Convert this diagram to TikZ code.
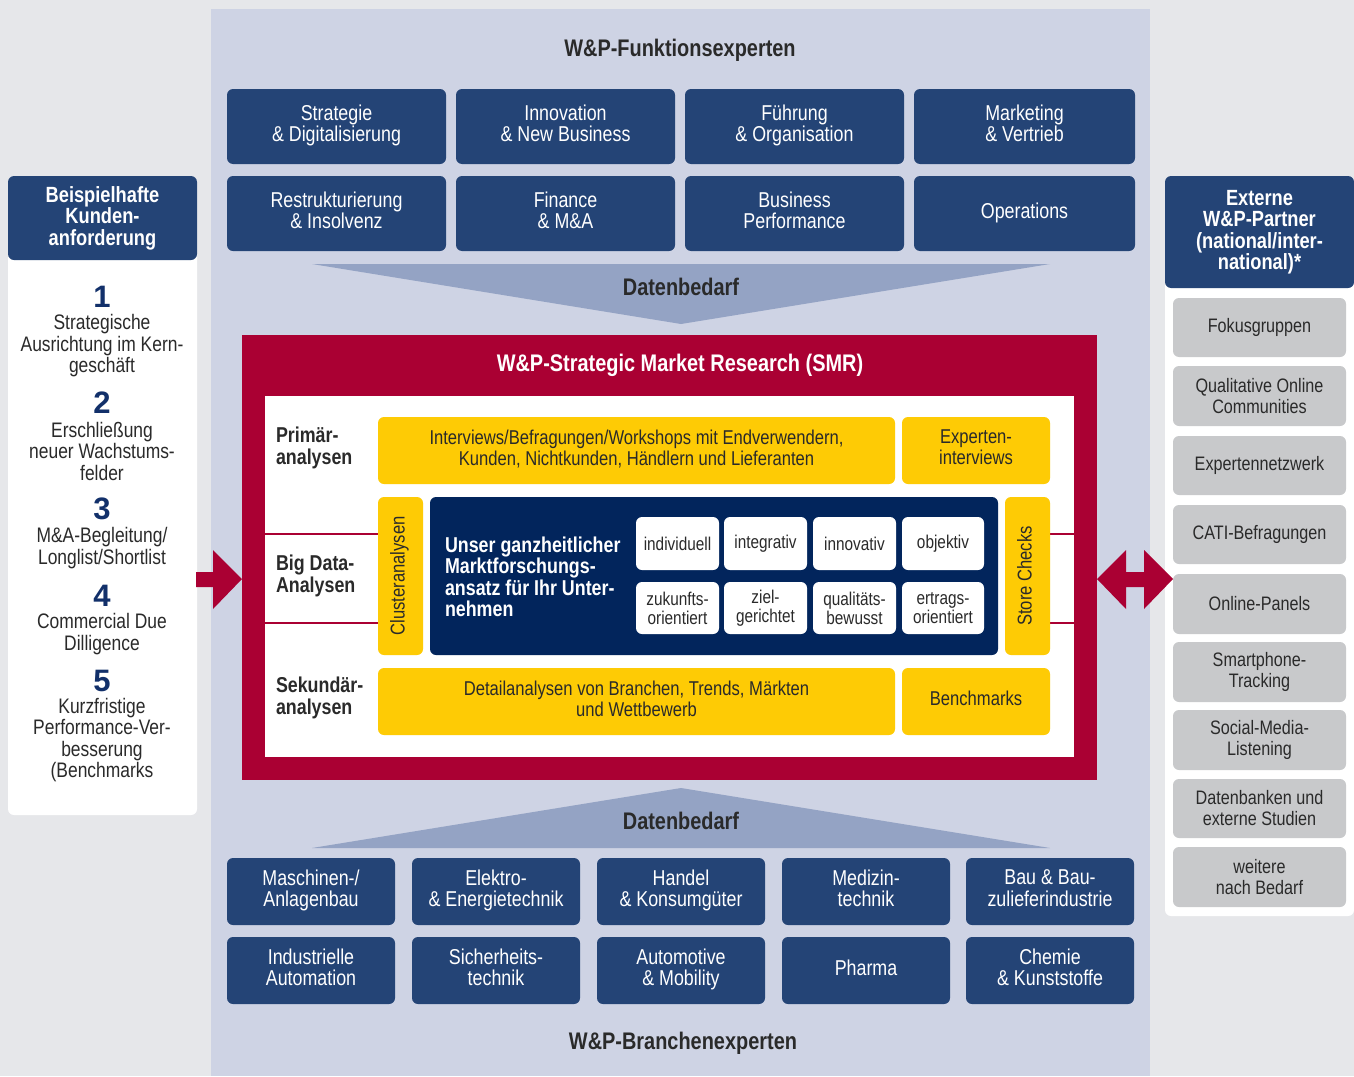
\documentclass[tikz,border=0pt]{standalone}
\usepackage{fontspec}
\setmainfont[FakeStretch=0.83]{Liberation Sans}
\newfontfamily\numfam{Liberation Sans}
\definecolor{bggray}{HTML}{E6E7EA}
\definecolor{panelc}{HTML}{CED3E4}
\definecolor{navyb}{HTML}{244476}
\definecolor{navyd}{HTML}{02255C}
\definecolor{wpred}{HTML}{AA0033}
\definecolor{wpyel}{HTML}{FECB05}
\definecolor{grayb}{HTML}{C8C9CB}
\definecolor{funnelc}{HTML}{94A3C4}
\definecolor{numblue}{HTML}{12306A}
\definecolor{txt}{HTML}{2A2A2A}
\newcommand\fsz[2]{\fontsize{#1}{#2}\selectfont}
\newcommand\bx[7]{\node[#6, minimum width={(#4)-(#2)}, minimum height={(#5)-(#3)}] (#1) at ({((#2)+(#4))/2},{((#3)+(#5))/2}) {#7};}
\tikzset{
  every node/.style={inner sep=0pt, outer sep=0pt},
  strutted/.style={execute at begin node=\strut, execute at end node=\strut},
  fbox/.style={fill=navyb, rounded corners=6pt, text=white, font=\fsz{21.5}{21.5}, align=center, strutted},
  gbox/.style={fill=grayb, rounded corners=6pt, text=txt, font=\fsz{19.5}{21}, align=center},
  ybox/.style={fill=wpyel, rounded corners=6pt, text=txt, font=\fsz{20}{21}, align=center, strutted},
  wbox/.style={fill=white, rounded corners=6pt, text=txt, font=\fsz{18.5}{19}, align=center},
  headbox/.style={fill=navyb, rounded corners=6pt, text=white, font=\bfseries\fsz{22}{21.5}, align=center},
  ttl/.style={text=txt, font=\bfseries\fsz{24}{24}},
  rowlbl/.style={text=txt, font=\bfseries\fsz{21.5}{21.5}, align=left, anchor=west},
  numtxt/.style={text=numblue, font=\numfam\bfseries\fsz{31}{31}},
  lefttxt/.style={text=txt, font=\fsz{21}{21.5}, align=center},
}
\begin{document}
\begin{tikzpicture}[x=1pt,y=-1pt]
\useasboundingbox (0,0) rectangle (1354,1076);
\fill[bggray] (0,0) rectangle (1354,1076);
% central panel
\bx{panel}{211}{9}{1150}{1076}{fill=panelc}{}
\node[ttl] (ttop) at (680,50) {W\&P-Funktionsexperten};
\node[ttl] (tbot) at (683,1043) {W\&P-Branchenexperten};
% function experts
\bx{f1}{227}{89}{446}{164}{fbox}{Strategie\\\& Digitalisierung}
\bx{f2}{456}{89}{675}{164}{fbox}{Innovation\\\& New Business}
\bx{f3}{685}{89}{904}{164}{fbox}{Führung\\\& Organisation}
\bx{f4}{914}{89}{1135}{164}{fbox}{Marketing\\\& Vertrieb}
\bx{f5}{227}{176}{446}{251}{fbox}{Restrukturierung\\\& Insolvenz}
\bx{f6}{456}{176}{675}{251}{fbox}{Finance\\\& M\&A}
\bx{f7}{685}{176}{904}{251}{fbox}{Business\\Performance}
\bx{f8}{914}{176}{1135}{251}{fbox}{Operations}
% funnels
\fill[funnelc] (312,264) -- (1050,264) -- (681,324) -- cycle;
\node[ttl] (db1) at (681,287) {Datenbedarf};
\fill[funnelc] (312,848) -- (1050,848) -- (681,788) -- cycle;
\node[ttl] (db2) at (681,821) {Datenbedarf};
% SMR
\bx{smr}{242}{335}{1097}{780}{fill=wpred}{}
\bx{inner}{265}{396}{1074}{757}{fill=white}{}
\node[text=white, font=\bfseries\fsz{24}{24}] (smrt) at (680,365) {W\&P-Strategic Market Research (SMR)};
\draw[wpred, line width=2pt] (265,534) -- (378,534) (265,623) -- (378,623);
\draw[wpred, line width=2pt] (1050,534) -- (1074,534) (1050,623) -- (1074,623);
\node[rowlbl] (l1) at (276,448) {Primär-\\analysen};
\node[rowlbl] (l2) at (276,576) {Big Data-\\Analysen};
\node[rowlbl] (l3) at (276,698) {Sekundär-\\analysen};
\bx{y1}{378}{417}{895}{484}{ybox}{Interviews/Befragungen/Workshops mit Endverwendern,\\Kunden, Nichtkunden, Händlern und Lieferanten}
\bx{y2}{902}{417}{1050}{484}{ybox}{Experten-\\interviews}
\bx{y3}{378}{668}{895}{735}{ybox}{Detailanalysen von Branchen, Trends, Märkten\\und Wettbewerb}
\bx{y4}{902}{668}{1050}{735}{ybox}{Benchmarks}
\node[ybox, rotate=90, minimum width=158, minimum height=45] (cl) at (400.5,576) {Clusteranalysen};
\node[ybox, rotate=90, minimum width=158, minimum height=45] (sc) at (1027.5,576) {Store Checks};
\bx{core}{430}{497}{998}{655}{fill=navyd, rounded corners=6pt}{}
\node[anchor=west, text=white, font=\bfseries\fsz{21.5}{21.5}, align=left] (coret) at (445,577) {Unser ganzheitlicher\\Marktforschungs-\\ansatz für Ihr Unter-\\nehmen};
\bx{w1}{636}{517}{719}{570}{wbox}{individuell}
\bx{w2}{724}{517}{807}{570}{wbox}{integrativ}
\bx{w3}{813}{517}{896}{570}{wbox}{innovativ}
\bx{w4}{902}{517}{984}{570}{wbox}{objektiv}
\bx{w5}{636}{582}{719}{634}{wbox}{zukunfts-\\orientiert}
\bx{w6}{724}{582}{807}{634}{wbox}{ziel-\\gerichtet}
\bx{w7}{813}{582}{896}{634}{wbox}{qualitäts-\\bewusst}
\bx{w8}{902}{582}{984}{634}{wbox}{ertrags-\\orientiert}
% branch experts
\bx{b1}{227}{858}{395}{925}{fbox}{Maschinen-/\\Anlagenbau}
\bx{b2}{412}{858}{580}{925}{fbox}{Elektro-\\\& Energietechnik}
\bx{b3}{597}{858}{765}{925}{fbox}{Handel\\\& Konsumgüter}
\bx{b4}{782}{858}{950}{925}{fbox}{Medizin-\\technik}
\bx{b5}{966}{858}{1134}{925}{fbox}{Bau \& Bau-\\zulieferindustrie}
\bx{b6}{227}{937}{395}{1004}{fbox}{Industrielle\\Automation}
\bx{b7}{412}{937}{580}{1004}{fbox}{Sicherheits-\\technik}
\bx{b8}{597}{937}{765}{1004}{fbox}{Automotive\\\& Mobility}
\bx{b9}{782}{937}{950}{1004}{fbox}{Pharma}
\bx{b10}{966}{937}{1134}{1004}{fbox}{Chemie\\\& Kunststoffe}
% left column
\bx{leftcol}{8}{176}{197}{815}{fill=white, rounded corners=6pt}{}
\bx{lefthead}{8}{176}{197}{260}{headbox}{Beispielhafte\\Kunden-\\anforderung}
\node[numtxt] (n1) at (102,297) {1};
\node[lefttxt] (t1) at (102,346) {Strategische\\Ausrichtung im Kern-\\geschäft};
\node[numtxt] (n2) at (102,403) {2};
\node[lefttxt] (t2) at (102,451) {Erschließung\\neuer Wachstums-\\felder};
\node[numtxt] (n3) at (102,509) {3};
\node[lefttxt] (t3) at (102,548) {M\&A-Begleitung/\\Longlist/Shortlist};
\node[numtxt] (n4) at (102,596) {4};
\node[lefttxt] (t4) at (102,634) {Commercial Due\\Dilligence};
\node[numtxt] (n5) at (102,681) {5};
\node[lefttxt] (t5) at (102,740) {Kurzfristige\\Performance-Ver-\\besserung\\(Benchmarks};
% right column
\bx{rightcol}{1165}{176}{1354}{916}{fill=white, rounded corners=6pt}{}
\bx{righthead}{1165}{176}{1354}{288}{headbox}{Externe\\W\&P-Partner\\(national/inter-\\national)*}
\bx{g1}{1173}{298}{1346}{357}{gbox}{Fokusgruppen}
\bx{g2}{1173}{366}{1346}{426}{gbox}{Qualitative Online\\Communities}
\bx{g3}{1173}{436}{1346}{495}{gbox}{Expertennetzwerk}
\bx{g4}{1173}{505}{1346}{564}{gbox}{CATI-Befragungen}
\bx{g5}{1173}{574}{1346}{634}{gbox}{Online-Panels}
\bx{g6}{1173}{642}{1346}{702}{gbox}{Smartphone-\\Tracking}
\bx{g7}{1173}{710}{1346}{770}{gbox}{Social-Media-\\Listening}
\bx{g8}{1173}{779}{1346}{838}{gbox}{Datenbanken und\\externe Studien}
\bx{g9}{1173}{847}{1346}{907}{gbox}{weitere\\nach Bedarf}
% arrows
\fill[wpred] (196,572) -- (213,572) -- (213,550) -- (242,579) -- (213,609) -- (213,587) -- (196,587) -- cycle;
\fill[wpred] (1097,579) -- (1126,550) -- (1126,572) -- (1144,572) -- (1144,550) -- (1173,579) -- (1144,609) -- (1144,587) -- (1126,587) -- (1126,609) -- cycle;
\end{tikzpicture}
\end{document}
